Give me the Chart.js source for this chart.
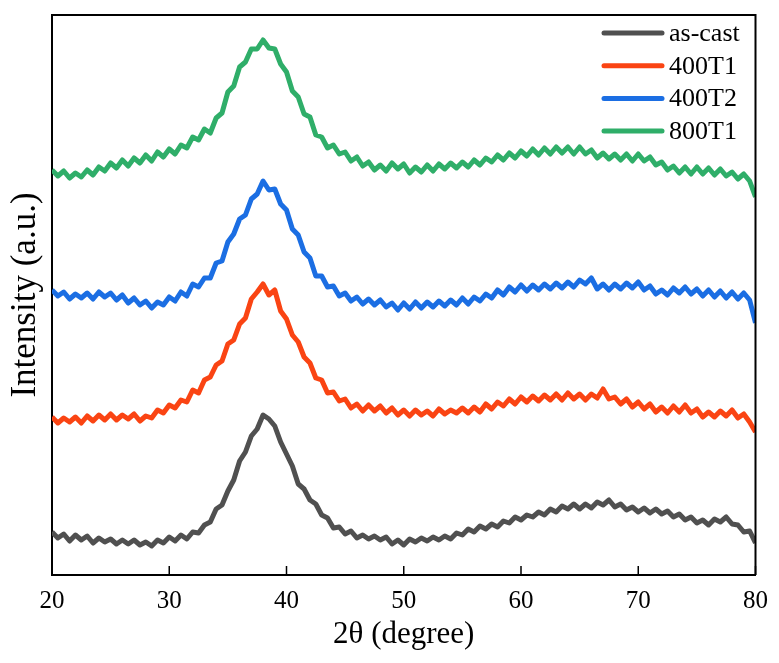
<!DOCTYPE html>
<html>
<head>
<meta charset="utf-8">
<title>XRD patterns</title>
<script src="https://cdn.jsdelivr.net/npm/chart.js@4.4.1/dist/chart.umd.min.js"></script>
<style>
  body { margin: 0; background: #fff; }
  #wrap { width: 779px; height: 663px; }
</style>
</head>
<body>
<div id="wrap"><canvas id="xrd" width="779" height="663"></canvas></div>
<script>
// 2theta sampling (degree)
const angles = [
  20, 20.5, 21, 21.5, 22, 22.5, 23, 23.5, 24, 24.5,
  25, 25.5, 26, 26.5, 27, 27.5, 28, 28.5, 29, 29.5,
  30, 30.5, 31, 31.5, 32, 32.5, 33, 33.5, 34, 34.5,
  35, 35.5, 36, 36.5, 37, 37.5, 38, 38.5, 39, 39.5,
  40, 40.5, 41, 41.5, 42, 42.5, 43, 43.5, 44, 44.5,
  45, 45.5, 46, 46.5, 47, 47.5, 48, 48.5, 49, 49.5,
  50, 50.5, 51, 51.5, 52, 52.5, 53, 53.5, 54, 54.5,
  55, 55.5, 56, 56.5, 57, 57.5, 58, 58.5, 59, 59.5,
  60, 60.5, 61, 61.5, 62, 62.5, 63, 63.5, 64, 64.5,
  65, 65.5, 66, 66.5, 67, 67.5, 68, 68.5, 69, 69.5,
  70, 70.5, 71, 71.5, 72, 72.5, 73, 73.5, 74, 74.5,
  75, 75.5, 76, 76.5, 77, 77.5, 78, 78.5, 79, 79.5,
  80
];

// intensity (a.u.), curves already stacked with offsets as in the figure
const asCast = [
  43, 37, 41, 34, 40, 35, 39, 32, 37, 33,
  36, 31, 35, 31, 35, 30, 33, 29, 35, 32,
  38, 34, 40, 36, 43, 42, 50, 53, 66, 70,
  84, 95, 114, 123, 139, 146, 160, 156, 149, 133,
  121, 109, 91, 86, 75, 71, 60, 57, 47, 48,
  41, 44, 37, 40, 36, 39, 35, 38, 31, 35,
  30, 36, 33, 37, 34, 38, 35, 39, 36, 42,
  40, 46, 43, 49, 46, 51, 48, 54, 52, 58,
  55, 60, 58, 63, 60, 66, 63, 69, 66, 71,
  66, 71, 67, 73, 70, 75, 68, 71, 65, 68,
  63, 67, 62, 66, 61, 64, 58, 61, 55, 58,
  52, 55, 50, 56, 53, 58, 51, 50, 43, 44,
  32
];
const s400T1 = [
  158, 152, 157, 153, 158, 152, 159, 154, 160, 155,
  161, 155, 160, 156, 161, 154, 159, 157, 165, 162,
  170, 167, 175, 173, 185, 182, 195, 198, 210, 214,
  231, 235, 251, 257, 276, 283, 291, 280, 285, 264,
  256, 240, 233, 218, 212, 197, 195, 182, 183, 174,
  176, 167, 171, 164, 170, 164, 169, 162, 167, 160,
  165, 159, 165, 160, 164, 159, 166, 161, 165, 162,
  167, 162, 168, 163, 171, 166, 173, 169, 176, 171,
  178, 173, 179, 174, 180, 175, 181, 175, 182, 176,
  181, 175, 181, 177, 186, 176, 178, 171, 176, 168,
  173, 166, 171, 163, 168, 162, 169, 163, 170, 162,
  166, 158, 163, 158, 164, 159, 165, 157, 161, 153,
  143
];
const s400T2 = [
  285, 279, 283, 276, 281, 277, 282, 276, 283, 278,
  282, 275, 280, 272, 277, 270, 274, 267, 273, 270,
  278, 274, 283, 279, 291, 288, 297, 297, 312, 314,
  333, 341, 356, 360, 376, 381, 394, 385, 386, 371,
  365, 346, 340, 323, 317, 299, 299, 288, 289, 279,
  282, 274, 278, 271, 276, 270, 275, 268, 272, 265,
  272, 266, 273, 267, 273, 268, 274, 269, 275, 270,
  277, 271, 278, 274, 281, 277, 285, 280, 288, 283,
  290, 284, 290, 285, 291, 286, 292, 287, 293, 288,
  295, 291, 297, 286, 291, 285, 291, 286, 292, 287,
  293, 285, 289, 281, 285, 280, 287, 282, 288, 281,
  286, 279, 285, 278, 284, 277, 283, 276, 282, 275,
  252
];
const s800T1 = [
  405, 399, 404, 397, 402, 398, 405, 400, 408, 404,
  412, 407, 415, 409, 417, 412, 420, 414, 423, 418,
  426, 421, 430, 427, 438, 435, 446, 442, 457, 462,
  483, 489, 508, 513, 526, 526, 535, 527, 526, 511,
  503, 484, 478, 461, 458, 440, 438, 427, 430, 421,
  423, 414, 418, 409, 413, 405, 410, 404, 412, 406,
  411, 402, 408, 403, 410, 404, 411, 406, 412, 407,
  413, 408, 415, 410, 417, 413, 420, 415, 422, 417,
  424, 419, 426, 420, 427, 421, 428, 422, 428, 421,
  428, 421, 425, 417, 422, 416, 421, 415, 421, 414,
  421, 414, 418, 410, 413, 405, 409, 402, 408, 401,
  408, 401, 407, 400, 406, 399, 403, 396, 401, 394,
  378
];

const seriesNames = ['as-cast', '400T1', '400T2', '800T1'];
const seriesColors = ['#505050', '#fa4413', '#1b6ee3', '#2fae69'];
const xTicks = [20, 30, 40, 50, 60, 70, 80];

const serif = "'Liberation Serif', 'Times New Roman', serif";

function toPoints(vals) {
  return vals.map((v, i) => ({ x: angles[i], y: v }));
}

// frame on top/right, inward ticks on the bottom axis, legend inside the box
const framePlugin = {
  id: 'frame',
  afterDraw(chart) {
    const { ctx, chartArea: a, scales } = chart;
    ctx.save();
    ctx.strokeStyle = '#000';
    ctx.lineWidth = 2;
    ctx.beginPath();
    ctx.moveTo(a.left, a.top);
    ctx.lineTo(a.right, a.top);
    ctx.lineTo(a.right, a.bottom);
    ctx.stroke();

    ctx.lineWidth = 1.5;
    xTicks.forEach(t => {
      const px = scales.x.getPixelForValue(t);
      ctx.beginPath();
      ctx.moveTo(px, a.bottom);
      ctx.lineTo(px, a.bottom - 9);
      ctx.stroke();
    });

    // legend
    ctx.font = '26px ' + serif;
    ctx.textBaseline = 'middle';
    ctx.textAlign = 'left';
    chart.data.datasets.forEach((ds, i) => {
      const y = a.top + 18 + i * 32.7;
      ctx.strokeStyle = ds.borderColor;
      ctx.lineWidth = 5;
      ctx.lineCap = 'round';
      ctx.beginPath();
      ctx.moveTo(a.left + 552, y);
      ctx.lineTo(a.left + 610, y);
      ctx.stroke();
      ctx.fillStyle = '#000';
      ctx.fillText(ds.label, a.left + 617, y + 1);
    });
    ctx.restore();
  }
};

new Chart(document.getElementById('xrd'), {
  type: 'line',
  data: {
    datasets: [asCast, s400T1, s400T2, s800T1].map((vals, i) => ({
      label: seriesNames[i],
      data: toPoints(vals),
      borderColor: seriesColors[i],
      borderWidth: 5,
      borderJoinStyle: 'round',
      pointRadius: 0,
      tension: 0,
      fill: false
    }))
  },
  options: {
    responsive: false,
    animation: false,
    devicePixelRatio: 1,
    layout: { padding: { top: 15, right: 22, left: 0, bottom: 0 } },
    plugins: {
      legend: { display: false },
      tooltip: { enabled: false }
    },
    scales: {
      x: {
        type: 'linear',
        min: 20,
        max: 80,
        afterFit: s => { s.height = 88; },
        afterBuildTicks: s => { s.ticks = xTicks.map(v => ({ value: v })); },
        ticks: {
          color: '#000',
          padding: 11,
          font: { family: serif, size: 25 }
        },
        grid: { display: false, drawTicks: false },
        border: { display: true, color: '#000', width: 2 },
        title: {
          display: true,
          text: '2θ (degree)',
          color: '#000',
          font: { family: serif, size: 31 },
          padding: { top: 0, bottom: 10 }
        }
      },
      y: {
        min: 0,
        max: 560,
        afterFit: s => { s.width = 52; },
        ticks: { display: false },
        grid: { display: false, drawTicks: false },
        border: { display: true, color: '#000', width: 2 },
        title: {
          display: true,
          text: 'Intensity (a.u.)',
          color: '#000',
          font: { family: serif, size: 35 },
          padding: { top: 5, bottom: 0 }
        }
      }
    }
  },
  plugins: [framePlugin]
});
</script>
</body>
</html>
